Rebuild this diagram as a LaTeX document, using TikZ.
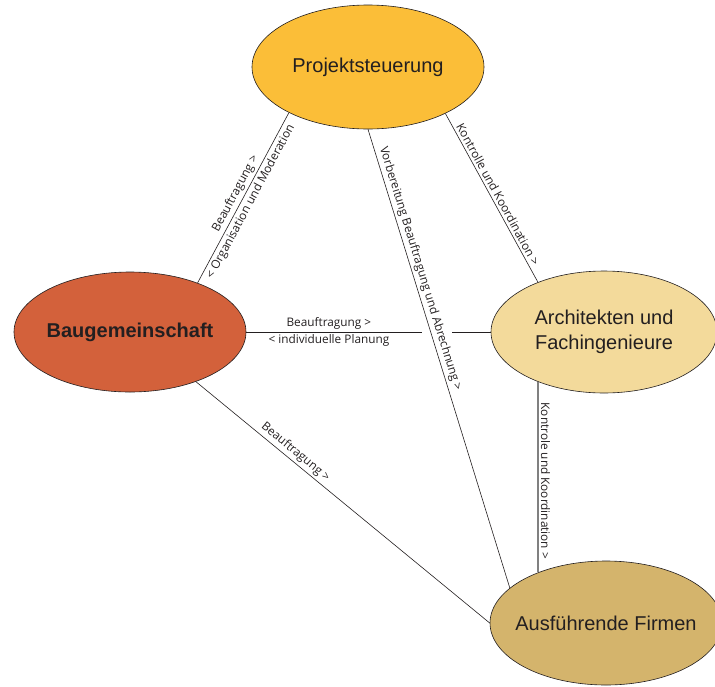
\documentclass[tikz,border=0pt]{standalone}
\usepackage{fontspec}
\setmainfont{Liberation Sans}
\newfontfamily\labelfont{Open Sans}
\usetikzlibrary{shapes.geometric}
\definecolor{steuerung}{RGB}{251,190,56}
\definecolor{gemeinschaft}{RGB}{211,97,59}
\definecolor{planer}{RGB}{243,218,155}
\definecolor{firmen}{RGB}{212,180,108}
\definecolor{schrift}{RGB}{35,31,32}
\tikzset{
	akteur/.style={
			ellipse, draw=schrift, line width=0.6pt, text=schrift, align=center,
			font=\fontsize{20}{25}\selectfont, inner xsep=-20pt, inner ysep=0pt
		},
	beschriftung/.style={font=\labelfont\fontsize{11.8}{14}\selectfont, text=schrift, sloped, inner sep=2.5pt},
	verbindung/.style={draw=schrift, line width=0.6pt}
}

\begin{document}
\begin{tikzpicture}[x=1pt, y=-1pt]
		\useasboundingbox (0,0) rectangle (715,686);

		% Akteure
		\node[akteur, fill=steuerung, minimum width=232pt, minimum height=124pt] (proj) at (368,67) {Projektsteuerung};
		\node[akteur, fill=gemeinschaft, minimum width=232pt, minimum height=120pt, font=\fontsize{20}{25}\selectfont\bfseries] (baug) at (130,332) {Baugemeinschaft};
		\node[akteur, fill=planer, minimum width=226pt, minimum height=122pt] (arch) at (604,332) {Architekten und\\Fachingenieure};
		\node[akteur, fill=firmen, minimum width=232pt, minimum height=124pt] (firm) at (606,623) {Ausführende Firmen};

		% Luecke in der waagerechten Linie
		\coordinate (gapl) at (422,332);
		\coordinate (gapr) at (452,332);

		% Verbindungen
		\draw[verbindung] (baug.36) -- (proj.210)
			node[beschriftung, above, pos=0.5] {Beauftragung >}
			node[beschriftung, below, pos=0.5] {< Organisation und Moderation};
		\draw[verbindung] (baug.east) -- (gapl)
			node[beschriftung, above, pos=0.47] {Beauftragung >}
			node[beschriftung, below, pos=0.47] {< individuelle Planung};
		\draw[verbindung] (gapr) -- (arch.west);
		\draw[verbindung] (proj.south) -- (firm.160)
			node[beschriftung, above, pos=0.31] {Vorbereitung Beauftragung und Abrechnung >};
		\draw[verbindung] (proj.-31) -- (arch.143)
			node[beschriftung, above, pos=0.5] {Kontrolle und Koordination >};
		\draw[verbindung, draw=gray, line width=1.2pt] (arch.217) -- (arch.217 |- firm.143)
			node[beschriftung, above, pos=0.52] {Kontrole und Koordination >};
		\draw[verbindung] (baug.-37) -- (firm.west)
			node[beschriftung, above, pos=0.32] {Beauftragung >};
	\end{tikzpicture}
\end{document}
